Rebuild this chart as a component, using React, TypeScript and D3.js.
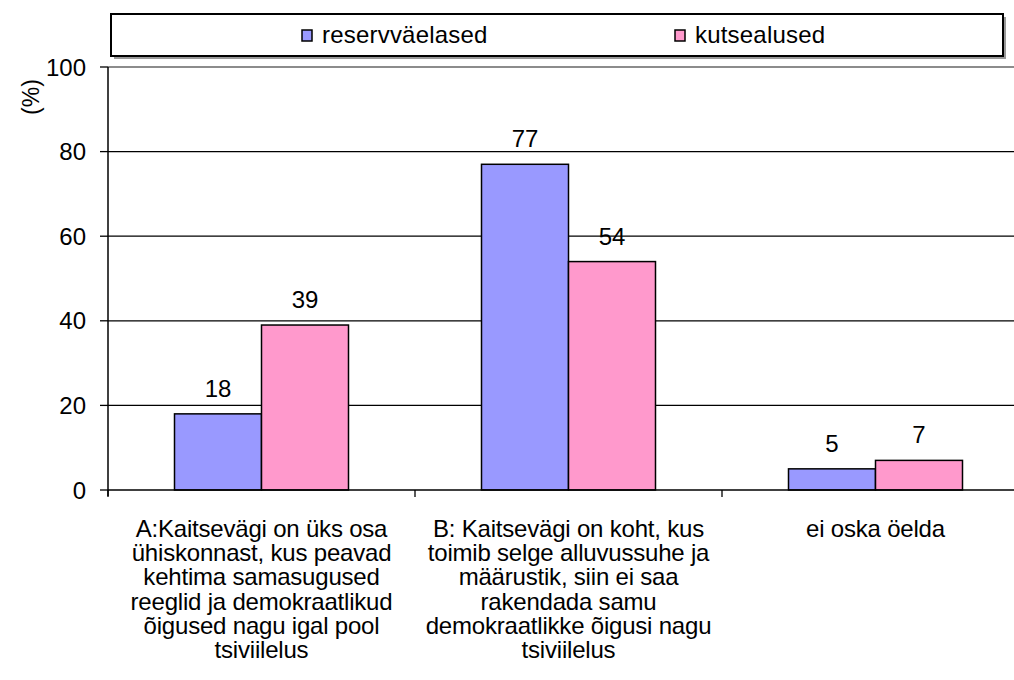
import React, { useEffect, useRef } from "react";
import * as d3 from "d3";

const categories = ["A", "B", "C"];
const categoryLines: string[][] = [
  [
    "A:Kaitsevägi on üks osa",
    "ühiskonnast, kus peavad",
    "kehtima samasugused",
    "reeglid ja demokraatlikud",
    "õigused nagu igal pool",
    "tsiviilelus",
  ],
  [
    "B: Kaitsevägi on koht, kus",
    "toimib selge alluvussuhe ja",
    "määrustik, siin ei saa",
    "rakendada samu",
    "demokraatlikke õigusi nagu",
    "tsiviilelus",
  ],
  ["ei oska öelda"],
];
const seriesNames = ["reservväelased", "kutsealused"];
const reservValues = [18, 77, 5];
const kutseValues = [39, 54, 7];
const yTicks = [0, 20, 40, 60, 80, 100];
const colors = ["#9999FF", "#FF99CC"];

const W = 1014;
const H = 680;
const FONT = "'Liberation Sans', Arial, sans-serif";
const FS = 24;

export default function App() {
  const ref = useRef<SVGSVGElement>(null);
  useEffect(() => {
    const svg = d3.select(ref.current);
    svg.selectAll("*").remove();

    const left = 108;
    const right = 1029;
    const top = 67;
    const bottom = 490;

    const x = d3.scaleBand<string>().domain(categories).range([left, right]).padding(0);
    const inner = d3
      .scaleBand<number>()
      .domain([0, 1])
      .range([0, x.bandwidth()])
      .paddingInner(0)
      .paddingOuter(0.7644);
    const y = d3.scaleLinear().domain([0, 100]).range([bottom, top]);

    svg.append("rect").attr("width", W).attr("height", H).attr("fill", "#fff");

    // gridlines
    svg
      .append("g")
      .selectAll("line")
      .data(yTicks.filter((t) => t > 0 && t < 100))
      .join("line")
      .attr("x1", left)
      .attr("x2", right)
      .attr("y1", (d) => y(d))
      .attr("y2", (d) => y(d))
      .attr("stroke", "#000")
      .attr("stroke-width", 1.3);
    // top border of plot area
    svg
      .append("line")
      .attr("x1", left)
      .attr("x2", right)
      .attr("y1", y(100))
      .attr("y2", y(100))
      .attr("stroke", "#8c8c8c")
      .attr("stroke-width", 2);

    const data = categories.map((c, i) => ({ c, vals: [reservValues[i], kutseValues[i]] }));

    const groups = svg
      .append("g")
      .selectAll("g")
      .data(data)
      .join("g")
      .attr("transform", (d) => `translate(${x(d.c)},0)`);

    groups
      .selectAll("rect")
      .data((d) => d.vals.map((v, j) => ({ v, j })))
      .join("rect")
      .attr("x", (d) => inner(d.j)!)
      .attr("width", inner.bandwidth())
      .attr("y", (d) => y(d.v))
      .attr("height", (d) => y(0) - y(d.v))
      .attr("fill", (d) => colors[d.j])
      .attr("stroke", "#000")
      .attr("stroke-width", 1.5);

    groups
      .selectAll("text")
      .data((d) => d.vals.map((v, j) => ({ v, j })))
      .join("text")
      .attr("x", (d) => inner(d.j)! + inner.bandwidth() / 2)
      .attr("y", (d) => y(d.v) - 17)
      .attr("text-anchor", "middle")
      .attr("font-family", FONT)
      .attr("font-size", FS)
      .attr("fill", "#000")
      .text((d) => String(d.v));

    // y axis
    const yAxis = svg.append("g");
    yAxis
      .append("line")
      .attr("x1", left)
      .attr("x2", left)
      .attr("y1", top)
      .attr("y2", bottom + 6)
      .attr("stroke", "#000")
      .attr("stroke-width", 1.5);
    yAxis
      .selectAll("line.tick")
      .data(yTicks)
      .join("line")
      .attr("class", "tick")
      .attr("x1", left - 8)
      .attr("x2", left)
      .attr("y1", (d) => y(d))
      .attr("y2", (d) => y(d))
      .attr("stroke", "#000")
      .attr("stroke-width", 1.3);
    yAxis
      .selectAll("text")
      .data(yTicks)
      .join("text")
      .attr("x", left - 22)
      .attr("y", (d) => y(d) + 8.5)
      .attr("text-anchor", "end")
      .attr("font-family", FONT)
      .attr("font-size", FS)
      .text((d) => String(d));

    svg
      .append("text")
      .attr("transform", `translate(39, ${97}) rotate(-90)`)
      .attr("text-anchor", "middle")
      .attr("font-family", FONT)
      .attr("font-size", 23)
      .text("(%)");

    // x axis
    svg
      .append("line")
      .attr("x1", left)
      .attr("x2", right)
      .attr("y1", bottom)
      .attr("y2", bottom)
      .attr("stroke", "#000")
      .attr("stroke-width", 1.5);
    const bounds = categories.map((c) => x(c)!).concat([right]);
    svg
      .append("g")
      .selectAll("line")
      .data(bounds)
      .join("line")
      .attr("x1", (d) => d)
      .attr("x2", (d) => d)
      .attr("y1", bottom)
      .attr("y2", bottom + 7)
      .attr("stroke", "#000")
      .attr("stroke-width", 1.3);

    const labels = svg
      .append("g")
      .selectAll("text")
      .data(categories)
      .join("text")
      .attr("text-anchor", "middle")
      .attr("font-family", FONT)
      .attr("font-size", FS)
      .attr("letter-spacing", -0.2)
      .attr("x", (c) => x(c)! + x.bandwidth() / 2)
      .attr("y", 537);
    labels
      .selectAll("tspan")
      .data((c, i) => categoryLines[i].map((l) => ({ l, cx: x(c)! + x.bandwidth() / 2 })))
      .join("tspan")
      .attr("x", (d) => d.cx)
      .attr("dy", (_d, k) => (k === 0 ? 0 : 24.2))
      .text((d) => d.l);

    // legend
    const lg = svg.append("g");
    lg.append("rect")
      .attr("x", 114)
      .attr("y", 17)
      .attr("width", 892)
      .attr("height", 42)
      .attr("fill", "#999");
    lg.append("rect")
      .attr("x", 111)
      .attr("y", 14)
      .attr("width", 892)
      .attr("height", 42)
      .attr("fill", "#fff")
      .attr("stroke", "#000")
      .attr("stroke-width", 2);
    const legendX = [302, 675];
    seriesNames.forEach((name, i) => {
      lg.append("rect")
        .attr("x", legendX[i])
        .attr("y", 30)
        .attr("width", 10)
        .attr("height", 11)
        .attr("fill", colors[i])
        .attr("stroke", "#000")
        .attr("stroke-width", 1.5);
      lg.append("text")
        .attr("x", legendX[i] + 20)
        .attr("y", 43)
        .attr("font-family", FONT)
        .attr("font-size", FS)
        .attr("letter-spacing", 0.2)
        .text(name);
    });
  }, []);

  return (
    <svg
      ref={ref}
      width={W}
      height={H}
      style={{ position: "absolute", left: 0, top: 0 }}
    />
  );
}
